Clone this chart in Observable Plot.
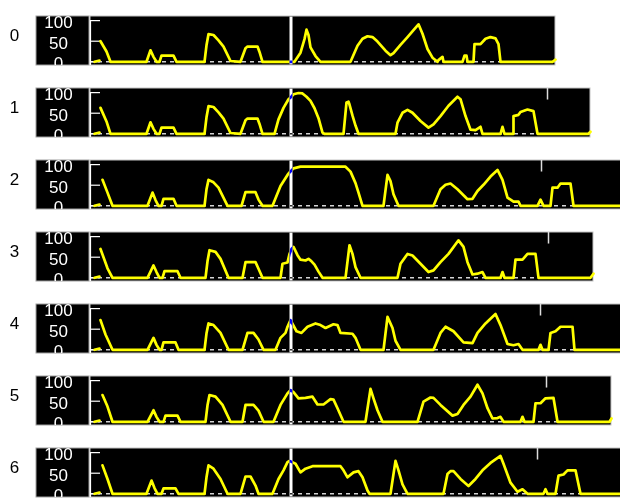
<!DOCTYPE html>
<html><head><meta charset="utf-8">
<script src="https://cdn.jsdelivr.net/npm/d3@7"></script>
<script src="https://cdn.jsdelivr.net/npm/@observablehq/plot@0.6"></script>
<style>html,body{margin:0;padding:0;background:#fff}</style>
</head><body>
<script>
// row labels and y tick labels
const rowLabels = ["0", "1", "2", "3", "4", "5", "6"];
const yTicks = [0, 50, 100];
// right end of each panel (time units) and position of the marker tick at top
const panelEnd = [465, 500, 535, 503, 535, 521, 535];
const markerT = [null, 457, 451, 458, 450, 456, 447];
// short segment at the beginning of every trace
const blip = [[4, 0], [9, 3]];
// traces: [time, value]
const trace0 = [[10,50],[16,25],[20,0],[56,0],[60,28],[63,12],[66,0],[69,0],[71,15],[83,15],[86,0],[114,0],[116,40],[118,67],[123,65],[128,52],[133,37],[140,2],[150,0],[155,33],[157,37],[167,37],[169,24],[172,0],[204,0],[210,22],[214,55],[216,78],[218,65],[220,35],[225,14],[230,0],[260,0],[267,39],[272,56],[277,62],[282,60],[287,49],[295,27],[300,16],[303,21],[310,41],[317,60],[323,77],[328,91],[332,68],[337,31],[342,10],[347,0],[348,4],[352,12],[353,0],[372,0],[374,15],[376,15],[377,0],[383,0],[384,43],[390,43],[395,56],[400,60],[405,57],[408,43],[410,0],[462,0],[465,5]];
const trace1 = [[10,63],[16,30],[20,0],[56,0],[60,28],[63,12],[66,0],[69,0],[71,15],[83,15],[86,0],[114,0],[116,40],[118,67],[123,65],[128,52],[133,37],[140,2],[150,0],[155,33],[157,37],[167,37],[169,24],[172,0],[184,0],[188,35],[193,63],[198,84],[200,88],[203,96],[208,99],[212,98],[216,90],[220,80],[224,62],[228,38],[232,3],[234,0],[253,0],[256,76],[258,78],[259,71],[262,44],[265,20],[268,0],[305,0],[307,27],[312,51],[317,58],[322,51],[330,31],[338,15],[343,23],[350,43],[358,68],[367,90],[370,84],[375,43],[380,10],[385,9],[390,17],[392,0],[410,0],[412,17],[414,0],[423,0],[423,43],[428,46],[430,53],[437,59],[443,55],[447,0],[498,0],[500,5]];
const trace2 = [[12,63],[17,32],[22,0],[57,0],[62,32],[65,14],[68,0],[71,0],[73,17],[83,17],[86,0],[114,0],[116,40],[118,63],[123,57],[128,44],[137,0],[151,0],[155,33],[165,33],[168,15],[172,0],[182,0],[190,48],[197,75],[199,81],[203,91],[210,95],[255,95],[260,83],[265,55],[268,32],[272,0],[293,0],[297,75],[300,60],[303,28],[308,0],[343,0],[350,40],[355,51],[360,54],[367,40],[377,16],[382,17],[387,36],[393,51],[400,71],[407,87],[412,63],[417,20],[423,10],[428,10],[430,0],[447,0],[450,15],[453,0],[460,0],[462,44],[467,44],[470,54],[480,54],[483,0],[535,0]];
const trace3 = [[10,70],[17,23],[22,0],[57,0],[63,30],[66,14],[69,0],[72,0],[74,16],[87,16],[90,0],[115,0],[117,40],[119,67],[125,63],[130,46],[138,0],[152,0],[155,38],[165,38],[168,22],[172,0],[190,0],[192,34],[197,37],[199,58],[201,70],[203,75],[207,55],[210,44],[215,42],[218,46],[221,40],[224,32],[228,15],[232,0],[255,0],[259,79],[262,58],[265,26],[270,0],[307,0],[310,34],[317,58],[322,54],[330,34],[338,14],[343,18],[350,38],[358,58],[368,91],[373,75],[377,38],[382,8],[387,10],[392,14],[395,0],[410,0],[412,14],[414,0],[423,0],[425,44],[432,44],[437,58],[445,58],[448,0],[500,0],[503,10]];
const trace4 = [[10,72],[15,37],[22,0],[57,0],[63,29],[66,12],[69,0],[71,0],[73,18],[85,18],[88,0],[114,0],[116,40],[118,64],[123,60],[130,41],[138,0],[152,0],[157,41],[163,41],[168,25],[173,0],[185,0],[190,29],[195,41],[197,56],[200,72],[206,45],[211,41],[217,56],[225,64],[230,60],[235,53],[243,62],[247,60],[250,41],[262,39],[265,29],[270,0],[293,0],[297,80],[302,53],[305,22],[310,0],[343,0],[350,41],[355,56],[363,45],[373,18],[382,16],[387,41],[395,64],[405,87],[410,60],[417,14],[423,11],[428,14],[432,0],[448,0],[450,12],[452,0],[458,0],[460,41],[465,45],[470,56],[482,56],[484,0],[535,0]];
const trace5 = [[12,65],[17,37],[22,0],[57,0],[63,28],[66,12],[69,0],[73,0],[75,15],[87,15],[90,0],[115,0],[117,40],[119,65],[125,61],[132,41],[140,0],[152,0],[155,41],[163,41],[168,27],[173,0],[183,0],[190,41],[197,69],[200,77],[203,72],[208,57],[215,58],[222,61],[227,42],[233,42],[240,55],[243,54],[247,33],[253,0],[275,0],[280,80],[283,57],[287,28],[292,0],[327,0],[333,49],[340,59],[343,58],[350,41],[362,15],[367,19],[373,41],[380,61],[387,90],[392,69],[397,33],[402,8],[407,9],[410,12],[413,0],[430,0],[432,12],[434,0],[443,0],[445,45],[450,45],[455,57],[463,58],[467,0],[519,0],[521,8]];
const trace6 = [[12,69],[17,36],[22,0],[56,0],[61,32],[64,14],[67,0],[71,0],[73,13],[85,13],[88,0],[114,0],[116,40],[118,69],[123,61],[130,36],[137,0],[150,0],[155,42],[160,42],[165,20],[168,0],[182,0],[188,36],[193,57],[197,77],[199,80],[205,73],[210,52],[215,61],[222,67],[250,67],[253,57],[257,40],[263,52],[268,55],[272,40],[277,8],[279,0],[300,0],[305,80],[308,57],[312,23],[317,0],[353,0],[357,48],[360,55],[363,55],[370,36],[378,19],[385,36],[392,57],[400,75],[410,92],[413,73],[420,27],[427,5],[432,11],[437,0],[453,0],[455,11],[457,0],[465,0],[468,44],[473,47],[477,57],[485,57],[490,0],[535,0]];

const traces = [trace0, trace1, trace2, trace3, trace4, trace5, trace6];
const points = traces.flatMap((pts, i) => pts.map(([t, v]) => ({row: rowLabels[i], t, v})));
const panels = rowLabels.map((row, i) => ({row, end: panelEnd[i]}));
const markers = rowLabels.map((row, i) => ({row, t: markerT[i]})).filter(d => d.t != null);
const blipData = blip.map(([t, v]) => ({t, v}));

// layout constants (time units / value units)
const gapT = 200.5;
const boxT = [-54, -1];
const yTop = 110, yBottom = -9;

const chart = Plot.plot({
  width: 620,
  height: 498,
  marginLeft: 36,
  marginRight: 0,
  marginTop: 14,
  marginBottom: 0,
  x: {domain: [-54, 530], axis: null},
  y: {domain: [yBottom, yTop], axis: null},
  fy: {domain: rowLabels, paddingInner: 0.324, paddingOuter: 0, axis: null},
  style: {fontFamily: "'Liberation Sans', Arial, sans-serif", fontSize: "17px", background: "white", overflow: "hidden"},
  marks: [
    Plot.rect([0], {x1: boxT[0], x2: boxT[1], y1: yBottom, y2: yTop, fill: "black", stroke: "#a0a0a0"}),
    Plot.rect(panels, {x1: 0, x2: "end", y1: yBottom, y2: yTop, fy: "row", fill: "black", stroke: "#c4c4c4"}),
    Plot.ruleY(panels, {y: 0, x1: 0, x2: "end", fy: "row", stroke: "#d4d4d4", strokeWidth: 1.5, strokeDasharray: "4,4"}),
    Plot.ruleY(yTicks, {y: d => d, x1: 0, x2: 10, stroke: "white", strokeWidth: 1.2}),
    Plot.ruleX([0], {x: 0, y1: yBottom, y2: 100, stroke: "white", strokeWidth: 1.2}),
    Plot.ruleX(markers, {x: "t", y1: yTop, y2: 82, fy: "row", stroke: "#dddddd", strokeWidth: 1.5}),
    Plot.line(points, {x: "t", y: "v", z: "row", fy: "row", stroke: "#ffff00", strokeWidth: 2.7}),
    Plot.line(blipData, {x: "t", y: "v", stroke: "#ffff00", strokeWidth: 2.7}),
    Plot.ruleX([gapT], {x: d => d, y1: yBottom, y2: yTop, stroke: "white", strokeWidth: 3, mixBlendMode: "difference"}),
    Plot.text(yTicks, {y: d => d, text: d => String(d), frameAnchor: "left", dx: 22, dy: 2, textAnchor: "middle", fill: "white", fontSize: 17, clip: true}),
    Plot.axisFy({anchor: "left", tickSize: 0, tickPadding: 0, textAnchor: "middle", dx: -22, dy: -5, label: null, fontSize: 17, fill: "black"})
  ]
});
document.body.appendChild(chart);
</script>
</body></html>
